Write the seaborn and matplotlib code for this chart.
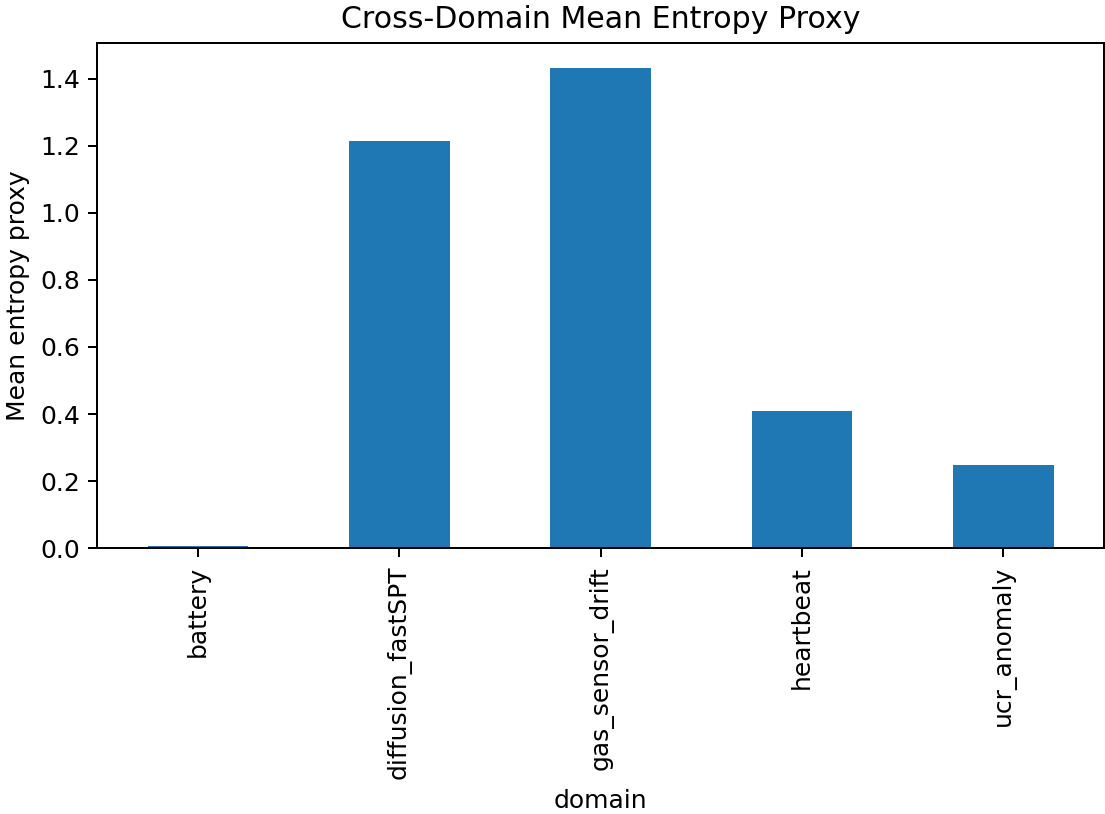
import matplotlib
matplotlib.use("Agg")
import matplotlib.pyplot as plt
import seaborn as sns
import pandas as pd

domains = ["battery", "diffusion_fastSPT", "gas_sensor_drift", "heartbeat", "ucr_anomaly"]
entropy = [0.008, 1.214, 1.432, 0.410, 0.248]

df = pd.DataFrame({"domain": domains, "entropy": entropy})

DPI = 180
fig = plt.figure(figsize=(1105/DPI, 814/DPI), dpi=DPI)
ax = fig.add_axes([0.0882, 0.3264, 0.9109, 0.6204])
sns.barplot(data=df, x="domain", y="entropy", color="#1f77b4", saturation=1,
            width=0.5, ax=ax)
ax.set_xlim(-0.5, len(domains) - 0.5)
ax.set_ylim(0, 1.505)
ax.set_title("Cross-Domain Mean Entropy Proxy", fontsize=12)
ax.set_ylabel("Mean entropy proxy")
ax.set_xlabel("domain")
ax.tick_params(axis="x", labelrotation=90)
fig.savefig("out.png", dpi=DPI)
